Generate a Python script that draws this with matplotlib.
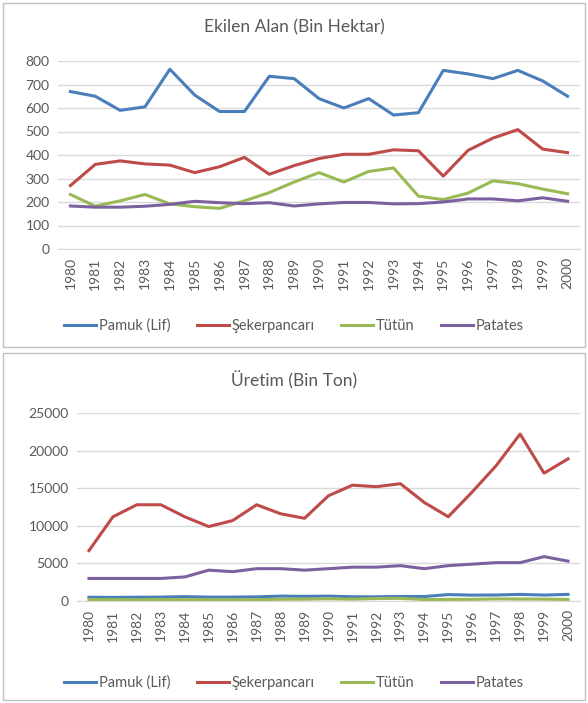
import numpy as np
import matplotlib.pyplot as plt
from matplotlib.patches import Rectangle

plt.rcParams['font.family'] = ['Lato', 'DejaVu Sans']

years = list(range(1980, 2001))
series_names = ['Pamuk (Lif)', 'Şekerpancarı', 'Tütün', 'Patates']
colors = ['#4a7ebb', '#be4b48', '#98b954', '#7d60a0']

# Ekilen Alan (Bin Hektar)
alan_pamuk = [670, 650, 590, 605, 765, 655, 585, 585, 735, 725, 640, 600, 640, 570, 580, 760, 745, 725, 760, 715, 650]
alan_seker = [270, 360, 375, 362, 357, 325, 350, 390, 318, 355, 385, 403, 403, 422, 418, 310, 420, 472, 508, 425, 410]
alan_tutun = [232, 182, 205, 232, 192, 180, 173, 205, 240, 285, 325, 285, 330, 345, 225, 210, 238, 290, 278, 255, 235]
alan_patates = [183, 178, 178, 182, 190, 203, 197, 193, 197, 183, 192, 198, 198, 192, 193, 200, 213, 213, 205, 218, 203]

# Üretim (Bin Ton)
ur_pamuk = [500, 480, 500, 520, 580, 520, 520, 550, 650, 620, 650, 560, 560, 600, 600, 850, 780, 800, 880, 790, 880]
ur_seker = [6700, 11200, 12800, 12800, 11200, 9900, 10700, 12800, 11600, 11000, 14000, 15400, 15200, 15600,
            13100, 11200, 14500, 18000, 22200, 17000, 18900]
ur_tutun = [200, 180, 170, 200, 180, 180, 170, 180, 230, 240, 300, 240, 330, 350, 200, 210, 220, 280, 260, 250, 200]
ur_patates = [3000, 3000, 3000, 3000, 3200, 4100, 3900, 4300, 4300, 4100, 4300, 4500, 4500, 4700,
              4300, 4700, 4900, 5100, 5100, 5900, 5300]

W, H = 588, 703
fig = plt.figure(figsize=(W / 100, H / 100), dpi=100)
txt = '#595959'

def panel(box, ax_rect, title, title_y, data, ymax, ystep, legend_y):
    # box and axes rects in pixels (left, top, right, bottom)
    l, t, r, b = box
    fig.patches.append(Rectangle((l / W, 1 - b / H), (r - l) / W, (b - t) / H,
                                 transform=fig.transFigure, fill=False,
                                 edgecolor='#bfbfbf', lw=1))
    al, at, ar, ab = ax_rect
    ax = fig.add_axes([al / W, 1 - ab / H, (ar - al) / W, (ab - at) / H])
    lines = []
    for vals, c, name in zip(data, colors, series_names):
        ln, = ax.plot(years, vals, color=c, lw=2.2, label=name)
        lines.append(ln)
    ax.set_xlim(1979.5, 2000.5)
    ax.set_ylim(0, ymax)
    ax.set_yticks(np.arange(0, ymax + 1, ystep))
    ax.set_xticks(years)
    ax.set_xticklabels([str(y) for y in years], rotation=90)
    ax.grid(axis='y', color='#d9d9d9', lw=1)
    ax.set_axisbelow(True)
    for s in ['top', 'right', 'left']:
        ax.spines[s].set_visible(False)
    ax.spines['bottom'].set_color('#d9d9d9')
    ax.tick_params(length=0, labelsize=10, colors=txt, pad=6)
    fig.text(0.5, 1 - title_y / H, title, ha='center', va='center', fontsize=12.5, color=txt)
    fig.legend(handles=lines, loc='center', bbox_to_anchor=(0.5, 1 - legend_y / H), ncol=4,
               frameon=False, fontsize=10.5, labelcolor=txt, handlelength=2.2,
               handletextpad=0.2, columnspacing=1.8)
    return ax

panel((3, 3, 585, 347), (58, 61, 580, 249), 'Ekilen Alan (Bin Hektar)', 27,
      [alan_pamuk, alan_seker, alan_tutun, alan_patates], 800, 100, 326)
panel((3, 353, 585, 700), (77, 413, 580, 601), 'Üretim (Bin Ton)', 380,
      [ur_pamuk, ur_seker, ur_tutun, ur_patates], 25000, 5000, 683)

fig.savefig('out.png', dpi=100, facecolor='white')
